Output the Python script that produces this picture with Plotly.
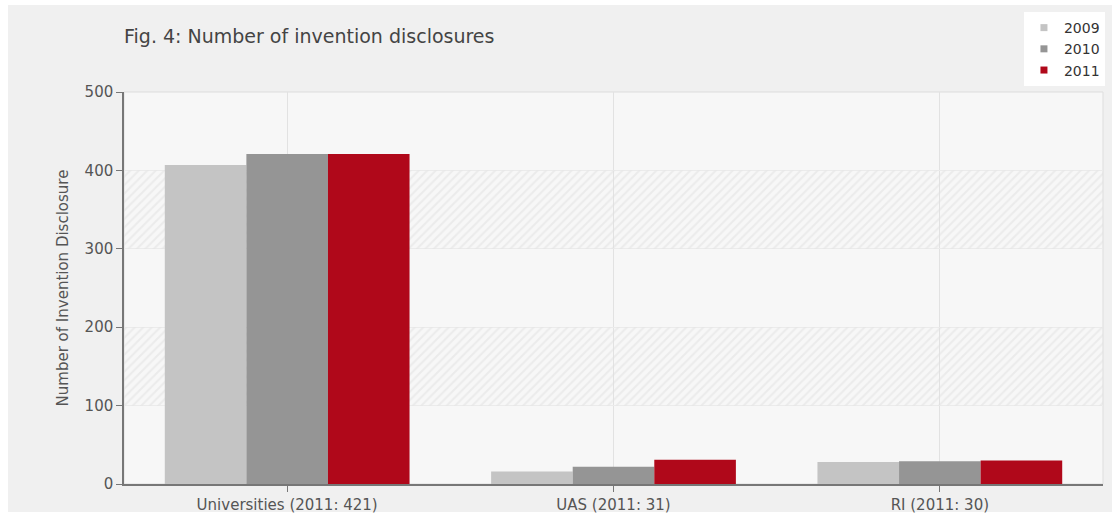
import plotly.graph_objects as go

# Invention disclosures by institution type and year
groups = ["Universities", "UAS", "RI"]
years = ["2009", "2010", "2011"]
values_2009 = [407, 16, 28]
values_2010 = [421, 22, 29]
values_2011 = [421, 31, 30]
colors = ["#c4c4c4", "#959595", "#b0081a"]

# hatched background bands (low, high)
band_low = [100, 300]
band_high = [200, 400]

labels = [f"{g} (2011: {v})" for g, v in zip(groups, values_2011)]
series = [values_2009, values_2010, values_2011]

FONT = "DejaVu Sans"
fig = go.Figure()

# striped bands spanning the whole plot width
fig.add_trace(go.Bar(
    x=[labels[1]] * len(band_low),
    y=[h - l for l, h in zip(band_low, band_high)],
    base=band_low,
    width=3, offset=-1.5,
    marker=dict(color="rgba(0,0,0,0)", line=dict(width=0),
                pattern=dict(shape="/", fgcolor="#e0e0e0",
                             bgcolor="rgba(0,0,0,0)", size=6, solidity=0.35)),
    showlegend=False, hoverinfo="skip",
))

offsets = [-0.375, -0.125, 0.125]
for yr, vals, col, off in zip(years, series, colors, offsets):
    fig.add_trace(go.Bar(
        x=labels, y=vals, name=yr, legendgroup=yr, showlegend=False,
        width=0.25, offset=off,
        marker=dict(color=col, line=dict(width=0)),
    ))
    # small square legend swatch
    fig.add_trace(go.Scatter(
        x=[None], y=[None], mode="markers", name=yr, legendgroup=yr,
        marker=dict(symbol="square", size=7, color=col),
    ))

fig.update_layout(
    width=1117, height=515,
    barmode="overlay",
    margin=dict(l=124, r=14, t=92, b=31),
    paper_bgcolor="#ffffff",
    plot_bgcolor="rgba(0,0,0,0)",
    font=dict(family=FONT, size=15, color="#555555"),
    title=dict(text="Fig. 4: Number of invention disclosures",
               x=124 / 1117, xanchor="left", y=1 - 36 / 515, yanchor="middle",
               font=dict(family=FONT, size=19, color="#444444")),
    legend=dict(x=1.002, xanchor="right", y=1.204, yanchor="top",
                bgcolor="#ffffff", font=dict(family=FONT, size=14, color="#333333"),
                itemwidth=30, tracegroupgap=0),
    xaxis=dict(type="category", range=[-0.5, 2.5],
               categoryorder="array", categoryarray=labels,
               automargin=False,
               showline=True, linecolor="#777777", linewidth=1.5,
               ticks="outside", ticklen=6, tickcolor="#777777",
               showgrid=True, gridcolor="#e2e2e2",
               tickfont=dict(family=FONT, size=15, color="#555555"),
               fixedrange=True),
    yaxis=dict(range=[0, 500], dtick=100, automargin=False,
               showline=True, linecolor="#777777", linewidth=1.5,
               ticks="outside", ticklen=6, tickcolor="#777777",
               showgrid=True, gridcolor="#ebebeb", zeroline=False,
               tickfont=dict(family=FONT, size=15, color="#555555"),
               title=dict(text="Number of Invention Disclosure",
                          font=dict(family=FONT, size=15, color="#555555"),
                          standoff=12),
               fixedrange=True),
    shapes=[
        # outer panel
        dict(type="rect", xref="paper", yref="paper", layer="below",
             x0=(8 - 124) / 979, x1=(1112 - 124) / 979,
             y0=(484 - 512) / 392, y1=(484 - 5) / 392,
             fillcolor="#f0f0f0", line=dict(width=0)),
        # plot area
        dict(type="rect", xref="paper", yref="paper", layer="below",
             x0=0, x1=1, y0=0, y1=1,
             fillcolor="#f7f7f7", line=dict(color="#dddddd", width=1)),
    ],
)

fig.write_html("out.html")
